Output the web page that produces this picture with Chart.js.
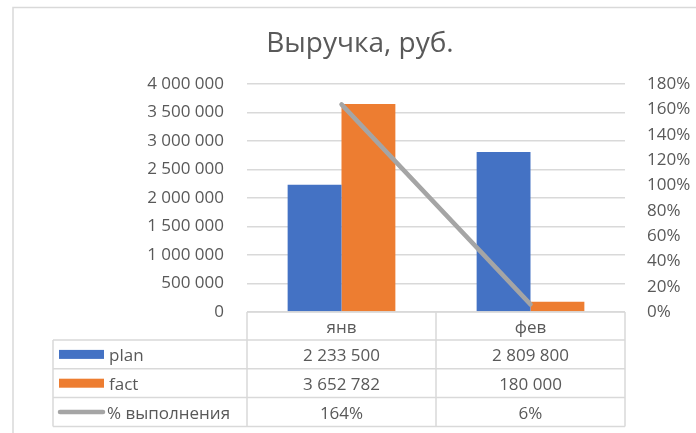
<!DOCTYPE html>
<html>
<head>
<meta charset="utf-8">
<script src="https://cdn.jsdelivr.net/npm/chart.js@4"></script>
<style>
  html, body { margin: 0; padding: 0; background: #fff; }
  #wrap { width: 696px; height: 433px; }
</style>
</head>
<body>
<div id="wrap"><canvas id="myChart" width="696" height="433"></canvas></div>
<script>
const categories = ['янв', 'фев'];
const planValues = [2233500, 2809800];
const factValues = [3652782, 180000];
const donePct = [1.64, 0.06];
const seriesNames = ['plan', 'fact', '% выполнения'];

const blue = '#4472C4';
const orange = '#ED7D31';
const gray = '#A5A5A5';
const textGray = '#595959';
const lineGray = '#D9D9D9';
const fontFamily = "'Open Sans', sans-serif";

function fmtNum(v) {
  return String(Math.round(v)).replace(/\B(?=(\d{3})+(?!\d))/g, ' ');
}
function fmtPct(v) {
  return Math.round(v * 100) + '%';
}

/*********************************
 PLUGINS
**********************************/
const framePlugin = {
  id: 'frame',
  beforeDraw(chart) {
    const c = chart.ctx;
    c.save();
    c.fillStyle = '#fff';
    c.fillRect(0, 0, chart.width, chart.height);
    c.strokeStyle = lineGray;
    c.lineWidth = 1.5;
    c.strokeRect(13, 7.5, chart.width + 50, chart.height + 50);
    c.restore();
  }
};

// data table under the x axis, like Excel's "data table with legend keys"
const tablePlugin = {
  id: 'dataTable',
  afterDraw(chart) {
    const c = chart.ctx;
    const area = chart.chartArea;
    const x = chart.scales.x;
    const rowH = 28.8;
    const headTop = area.bottom;
    const bodyTop = headTop + 28;
    const bottom = bodyTop + rowH * 3;
    const tableLeft = 53;
    const colEdges = [area.left];
    categories.forEach((_, i) => {
      const next = i + 1 < categories.length
        ? (x.getPixelForValue(i) + x.getPixelForValue(i + 1)) / 2
        : area.right;
      colEdges.push(next);
    });

    c.save();
    c.strokeStyle = lineGray;
    c.lineWidth = 1.5;
    c.beginPath();
    // header line + vertical lines
    c.moveTo(area.left, headTop);
    c.lineTo(area.right, headTop);
    colEdges.forEach(ex => {
      c.moveTo(ex, headTop);
      c.lineTo(ex, bottom);
    });
    c.moveTo(tableLeft, bodyTop);
    c.lineTo(tableLeft, bottom);
    for (let r = 0; r <= 3; r++) {
      const y = bodyTop + rowH * r;
      c.moveTo(tableLeft, y);
      c.lineTo(area.right, y);
    }
    c.stroke();

    const rows = [
      { label: seriesNames[0], values: planValues.map(fmtNum), color: blue, kind: 'box' },
      { label: seriesNames[1], values: factValues.map(fmtNum), color: orange, kind: 'box' },
      { label: seriesNames[2], values: donePct.map(fmtPct), color: gray, kind: 'line' }
    ];
    c.font = '17px ' + fontFamily;
    c.fillStyle = textGray;
    c.textBaseline = 'alphabetic';
    rows.forEach((row, r) => {
      const top = bodyTop + rowH * r;
      const mid = top + rowH / 2;
      const base = mid + 6.5;
      // legend key
      if (row.kind === 'box') {
        c.fillStyle = row.color;
        c.fillRect(59, mid - 4.5, 45, 9);
      } else {
        c.strokeStyle = row.color;
        c.lineWidth = 4.5;
        c.lineCap = 'round';
        c.beginPath();
        c.moveTo(60, mid);
        c.lineTo(103, mid);
        c.stroke();
      }
      c.fillStyle = textGray;
      c.textAlign = 'left';
      c.fillText(row.label, row.kind === 'box' ? 109 : 107, base);
      c.textAlign = 'center';
      row.values.forEach((v, i) => {
        c.fillText(v, (colEdges[i] + colEdges[i + 1]) / 2, base);
      });
    });
    c.restore();
  }
};

const config = {
  type: 'bar',
  data: {
    labels: categories,
    datasets: [
      {
        type: 'line',
        label: seriesNames[2],
        data: donePct,
        yAxisID: 'y1',
        borderColor: gray,
        backgroundColor: gray,
        borderWidth: 4.5,
        borderCapStyle: 'round',
        pointRadius: 0,
        tension: 0,
        order: 0
      },
      {
        label: seriesNames[0],
        data: planValues,
        yAxisID: 'y',
        backgroundColor: blue,
        categoryPercentage: 0.57,
        barPercentage: 1,
        order: 1
      },
      {
        label: seriesNames[1],
        data: factValues,
        yAxisID: 'y',
        backgroundColor: orange,
        categoryPercentage: 0.57,
        barPercentage: 1,
        order: 1
      }
    ]
  },
  options: {
    responsive: false,
    animation: false,
    layout: { padding: { top: 8, left: 24, right: 0, bottom: 0 } },
    plugins: {
      legend: { display: false },
      tooltip: { enabled: false },
      title: {
        display: true,
        text: 'Выручка, руб.',
        color: textGray,
        font: { family: fontFamily, size: 28, weight: 'normal' },
        padding: { top: 19, bottom: 23.5 }
      }
    },
    scales: {
      x: {
        grid: { display: false, drawTicks: false },
        border: { display: false },
        ticks: {
          color: textGray,
          font: { family: fontFamily, size: 17 },
          padding: 6
        },
        afterFit(scale) { scale.height = 121; }
      },
      y: {
        position: 'left',
        min: 0,
        max: 4000000,
        grid: { color: lineGray, lineWidth: 1.5, drawTicks: false },
        border: { display: false },
        ticks: {
          stepSize: 500000,
          color: textGray,
          font: { family: fontFamily, size: 17 },
          padding: 23,
          callback: v => fmtNum(v)
        },
        afterFit(scale) { scale.width = 223; }
      },
      y1: {
        position: 'right',
        min: 0,
        max: 1.8,
        grid: { display: false, drawTicks: false },
        border: { display: false },
        ticks: {
          stepSize: 0.2,
          color: textGray,
          font: { family: fontFamily, size: 17 },
          padding: 22,
          callback: v => fmtPct(v)
        },
        afterFit(scale) { scale.width = 71; }
      }
    }
  },
  plugins: [framePlugin, tablePlugin]
};

new Chart(document.getElementById('myChart'), config);
</script>
</body>
</html>
